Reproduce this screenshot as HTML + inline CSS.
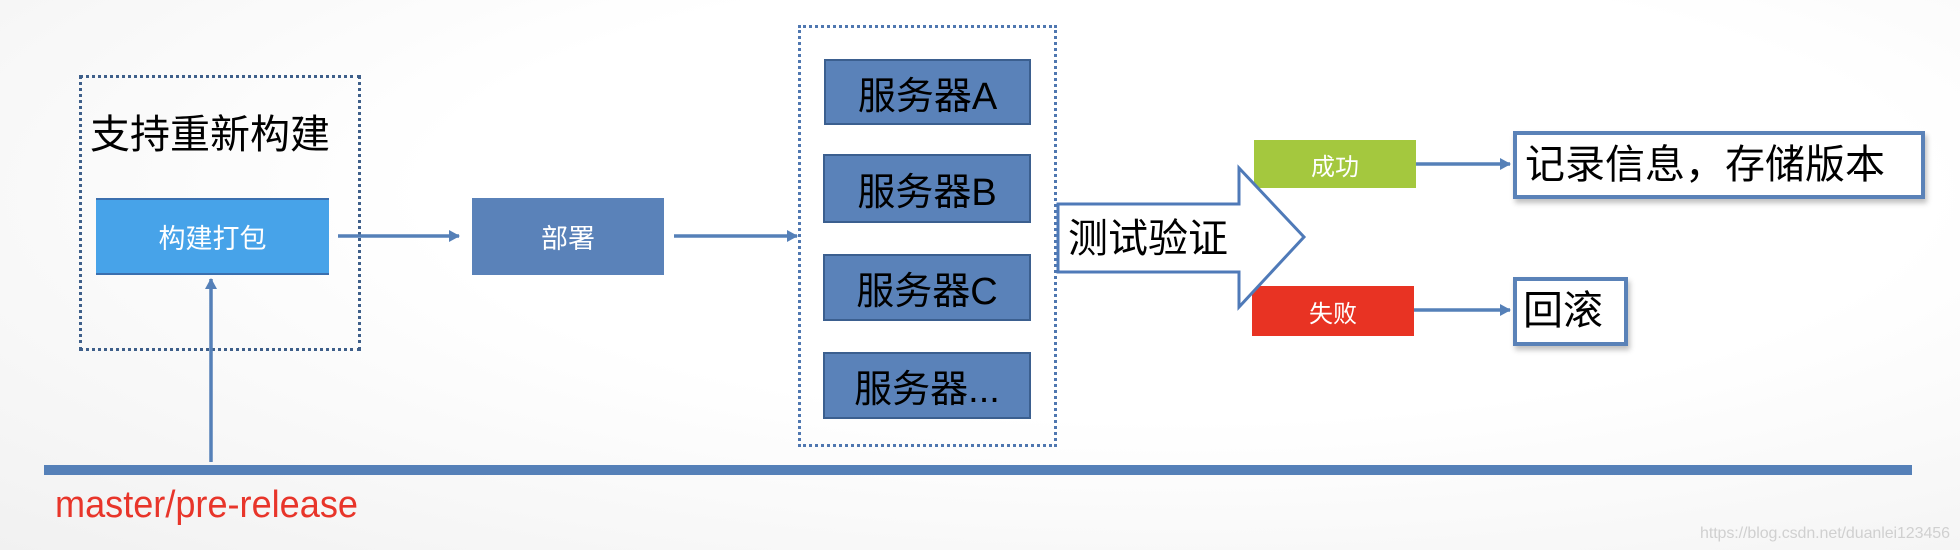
<!DOCTYPE html>
<html><head><meta charset="utf-8"><style>
html,body{margin:0;padding:0}
body{width:1960px;height:550px;position:relative;overflow:hidden;font-family:"Liberation Sans","Noto Sans CJK SC",sans-serif;
background:radial-gradient(ellipse at 60% 35%,#ffffff 45%,#f1f1f1 100%);}
.a{position:absolute;box-sizing:border-box}
.c{display:flex;align-items:center;justify-content:center}
.dot{border:3px dotted #3e5f8a}
.srv{background:#5a82b9;border:2px solid #3b5f8f;color:#000;font-size:38px}
</style></head><body>
<div class="a dot" style="left:79px;top:75px;width:282px;height:276px"></div>
<div class="a" style="left:90px;top:110px;font-size:40px;color:#000;line-height:50px">支持重新构建</div>
<div class="a c" style="left:96px;top:198px;width:233px;height:77px;background:#47a3e9;border-bottom:2px solid #3b6fae;border-top:2px solid #3b6fae;color:#fff;font-size:27px">构建打包</div>
<div class="a c" style="left:472px;top:198px;width:192px;height:77px;background:#5a82b9;color:#fff;font-size:27px">部署</div>
<div class="a dot" style="left:798px;top:25px;width:259px;height:422px;border-color:#4f77b0"></div>
<div class="a c srv" style="left:824px;top:59px;width:207px;height:66px">服务器A</div>
<div class="a c srv" style="left:823px;top:154px;width:208px;height:69px">服务器B</div>
<div class="a c srv" style="left:823px;top:254px;width:208px;height:67px">服务器C</div>
<div class="a c srv" style="left:823px;top:352px;width:208px;height:67px">服务器...</div>
<div class="a" style="left:44px;top:465px;width:1868px;height:10px;background:#5580b8"></div>
<div class="a" style="left:55px;top:482px;font-size:38px;color:#e8352a;line-height:46px;transform:scaleX(.95);transform-origin:0 0">master/pre-release</div>
<div class="a c" style="left:1254px;top:140px;width:162px;height:48px;background:#a4c83e;color:#fff;font-size:24px">成功</div>
<div class="a c" style="left:1252px;top:286px;width:162px;height:50px;background:#e83323;color:#fff;font-size:24px">失败</div>
<div class="a" style="left:1513px;top:131px;width:412px;height:68px;border:4px solid #5a82b8;background:#fff;box-shadow:2px 4px 5px rgba(0,0,0,.25);font-size:40px;line-height:60px;padding-left:8px">记录信息，存储版本</div>
<div class="a" style="left:1513px;top:277px;width:115px;height:69px;border:4px solid #5a82b8;background:#fff;box-shadow:2px 4px 5px rgba(0,0,0,.25);font-size:40px;line-height:61px;padding-left:6px">回滚</div>
<svg class="a" style="left:0;top:0" width="1960" height="550">
<defs><marker id="m" markerWidth="12" markerHeight="12" refX="10" refY="6" orient="auto" markerUnits="userSpaceOnUse"><path d="M0,0 L11,6 L0,12 Z" fill="#5580b8"/></marker></defs>
<g stroke="#5580b8" stroke-width="3.5" fill="none">
<line x1="338" y1="236" x2="459" y2="236" marker-end="url(#m)"/>
<line x1="674" y1="236" x2="797" y2="236" marker-end="url(#m)"/>
<line x1="211" y1="462" x2="211" y2="279" marker-end="url(#m)"/>
<line x1="1416" y1="164" x2="1510" y2="164" marker-end="url(#m)"/>
<line x1="1414" y1="310" x2="1510" y2="310" marker-end="url(#m)"/>
</g>
<path d="M1058,204 L1239,204 L1239,168 L1304,237 L1239,307 L1239,272 L1058,272 Z" fill="#fff" stroke="#4f7ab8" stroke-width="3"/>
<text x="1068" y="252" font-size="40" font-family="Liberation Sans,Noto Sans CJK SC,sans-serif" fill="#000">测试验证</text>
<text x="1700" y="538" font-size="16" textLength="250" font-family="Liberation Sans,sans-serif" fill="#d0d0d0">https://blog.csdn.net/duanlei123456</text>
</svg>
</body></html>
